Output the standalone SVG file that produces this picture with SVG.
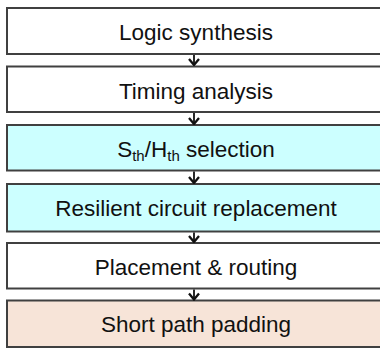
<svg xmlns="http://www.w3.org/2000/svg" width="380" height="348" viewBox="0 0 380 348">
<style>
.box{stroke:#404040;stroke-width:2}
.w{fill:#ffffff}
.c{fill:#ccffff}
.p{fill:#f7e4d8}
text{font-family:"Liberation Sans",Arial,sans-serif;font-size:22.5px;fill:#111111;text-anchor:middle}
.sub{font-size:15px}
.conn{stroke:#111;stroke-width:1.8;fill:none}
</style>
<defs>
<marker id="ah" viewBox="0 0 10 12" refX="9" refY="6" markerWidth="10" markerHeight="12" markerUnits="userSpaceOnUse" orient="auto">
<path d="M3,1 L9,6 L3,11" fill="none" stroke="#111" stroke-width="2.3"/>
</marker>
</defs>
<rect width="380" height="348" fill="#ffffff"/>
<g id="n1"><rect class="box w" x="7" y="8" width="385" height="46"/><text x="196" y="40">Logic synthesis</text></g>
<g id="n2"><rect class="box w" x="7" y="66.5" width="385" height="45.5"/><text x="196" y="98.5">Timing analysis</text></g>
<g id="n3"><rect class="box c" x="7" y="125" width="385" height="45.5"/><text x="196" y="157">S<tspan class="sub" dy="4">th</tspan><tspan dy="-4">/H</tspan><tspan class="sub" dy="4">th</tspan><tspan dy="-4"> selection</tspan></text></g>
<g id="n4"><rect class="box c" x="7" y="184" width="385" height="47.5"/><text x="196" y="216">Resilient circuit replacement</text></g>
<g id="n5"><rect class="box w" x="7" y="243" width="385" height="45.5"/><text x="196" y="275">Placement &amp; routing</text></g>
<g id="n6"><rect class="box p" x="7" y="300.5" width="385" height="46.5"/><text x="196" y="332">Short path padding</text></g>
<g id="connectors">
<line class="conn" x1="194" y1="55" x2="194" y2="65" marker-end="url(#ah)"/>
<line class="conn" x1="194" y1="113" x2="194" y2="124" marker-end="url(#ah)"/>
<line class="conn" x1="194" y1="171.5" x2="194" y2="183" marker-end="url(#ah)"/>
<line class="conn" x1="194" y1="232.5" x2="194" y2="242" marker-end="url(#ah)"/>
<line class="conn" x1="194" y1="289.5" x2="194" y2="299.5" marker-end="url(#ah)"/>
</g>
</svg>
